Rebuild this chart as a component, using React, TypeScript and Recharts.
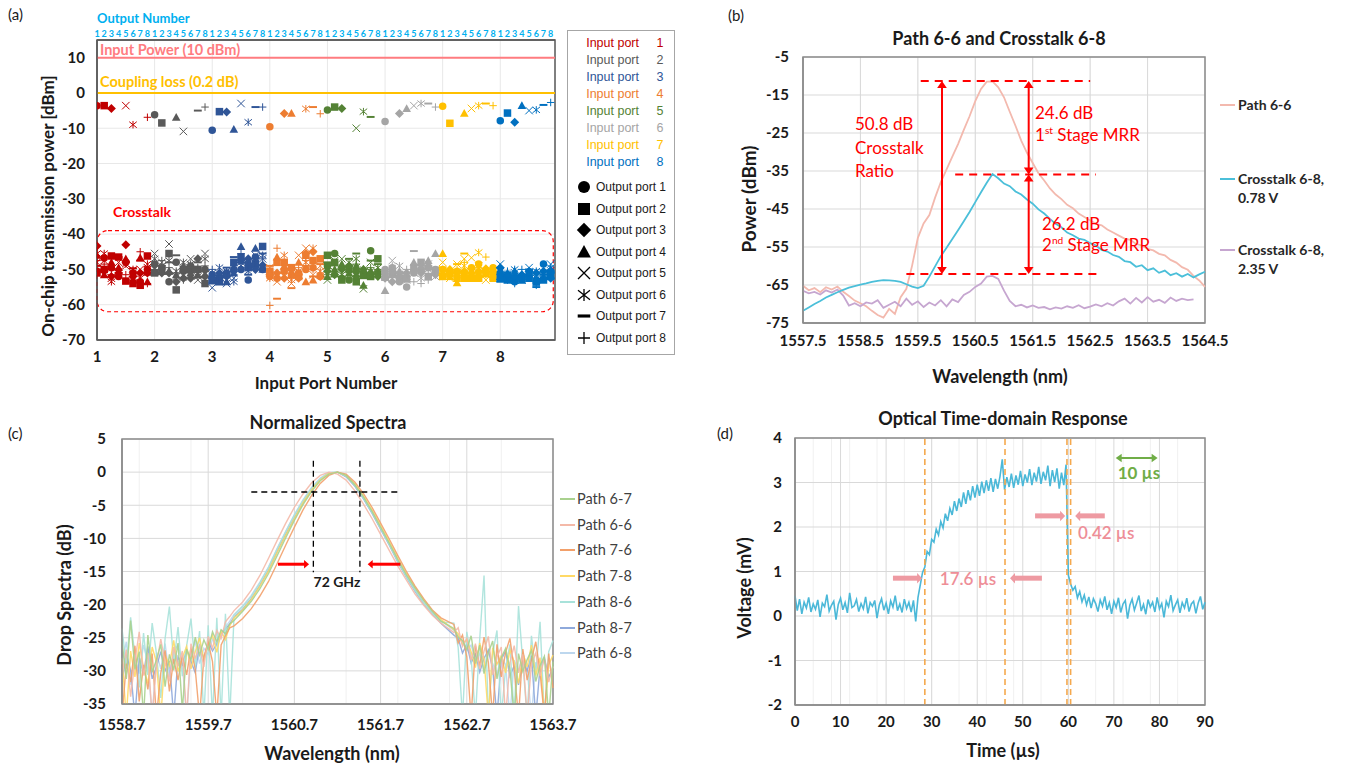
import React from 'react';
import {
  ScatterChart,
  Scatter,
  LineChart,
  Line,
  XAxis,
  YAxis,
  CartesianGrid,
  ReferenceLine,
  ReferenceArea,
} from 'recharts';

const FONT = 'Lato, "Open Sans", sans-serif';
const ARIAL = '"Liberation Sans", Arial, sans-serif';

// ---------------- (a) switch port map ----------------
const inputPorts = [1, 2, 3, 4, 5, 6, 7, 8];
const outputNames = ['1', '2', '3', '4', '5', '6', '7', '8'];
const portColors = ['#C00000', '#595959', '#2F5597', '#ED7D31', '#548235', '#A5A5A5', '#FFC000', '#0070C0'];
const markerNames = ['Output port 1', 'Output port 2', 'Output port 3', 'Output port 4', 'Output port 5', 'Output port 6', 'Output port 7', 'Output port 8'];
const aYTicks = [10, 0, -10, -20, -30, -40, -50, -60, -70];

// on-chip power of the switched path, one value per output port (null = not plotted)
const aMain1 = [-3.6, -3.6, -4.4, null, -3.6, -9.0, null, -6.9];
const aMain2 = [-6.2, -8.5, null, -6.9, -10.9, null, -5.0, -4.0];
const aMain3 = [-10.6, -5.3, -5.4, -10.3, -3.0, -8.3, -4.0, -4.0];
const aMain4 = [-9.6, null, -5.8, -5.8, null, -4.5, -4.0, -5.9];
const aMain5 = [-4.8, -4.0, -4.4, null, -10.0, -5.3, -6.8, null];
const aMain6 = [-8.1, null, -5.8, -4.4, -3.6, -3.0, -3.0, -4.0];
const aMain7 = [-3.8, -8.6, null, -5.8, -4.4, -3.6, -3.0, -3.6];
const aMain8 = [-7.9, -5.7, -8.3, -3.6, -5.0, -4.8, -3.4, -2.7];

// crosstalk: rows = marker (output port 1..8), columns = output number slot 1..8
const aXt1 = [
  [-50.5, -46.8, -49.5, -52.0, -48.0, -51.0, -53.5, -50.0],
  [-51.0, -50.0, -46.2, -46.5, -53.3, -54.0, -54.5, -46.2],
  [-43.4, -50.5, -52.0, -51.0, -43.0, -52.0, -51.0, -51.0],
  [-46.0, -51.5, -48.0, -49.5, -47.0, -53.0, -46.7, -53.5],
  [-48.0, -47.5, -52.5, -48.0, -49.0, -52.0, -50.0, -49.5],
  [-45.5, -45.5, -53.5, -50.5, -48.5, -50.0, -52.5, -48.5],
  [-49.0, -50.0, -50.0, -46.5, -48.0, -49.7, -47.5, -51.5],
  [-47.5, -48.5, -51.5, -51.0, -51.5, -50.5, -45.0, -54.0],
];
const aXt2 = [
  [-48.5, -49.5, -53.5, -48.0, -50.5, -49.0, -50.0, -50.0],
  [-51.0, -50.5, -45.5, -55.8, -50.0, -50.0, -50.0, -54.0],
  [-48.8, -51.0, -51.0, -53.5, -52.5, -52.5, -47.0, -52.0],
  [-50.5, -50.5, -50.5, -51.5, -49.0, -51.0, -51.5, -51.5],
  [-45.5, -48.0, -42.8, -52.0, -51.5, -47.0, -53.0, -45.5],
  [-47.0, -49.0, -47.5, -50.5, -48.0, -48.5, -52.0, -47.0],
  [-51.5, -49.0, -48.0, -46.0, -50.5, -49.5, -48.0, -50.5],
  [-50.0, -47.5, -49.5, -51.0, -53.0, -51.0, -49.5, -49.0],
];
const aXt3 = [
  [-51.5, -52.0, -51.0, -50.0, -50.0, -53.0, -46.5, -50.0],
  [-53.2, -53.5, -51.5, -48.0, -46.5, -49.5, -48.5, -43.5],
  [-52.5, -51.0, -52.0, -50.5, -47.5, -47.0, -50.0, -48.8],
  [-53.0, -52.5, -53.5, -51.0, -43.5, -47.5, -44.0, -50.0],
  [-55.2, -53.5, -54.0, -52.5, -49.0, -48.5, -46.0, -47.0],
  [-51.0, -49.5, -50.5, -53.5, -48.0, -50.5, -48.0, -46.0],
  [-52.5, -52.0, -49.5, -46.5, -48.0, -51.5, -49.5, -45.5],
  [-50.0, -53.0, -51.0, -49.0, -45.5, -49.0, -47.5, -47.0],
];
const aXt4 = [
  [-52.0, -52.5, -50.5, -51.5, -51.0, -50.0, -49.5, -52.0],
  [-50.5, -48.0, -48.0, -49.5, -52.0, -46.0, -47.5, -47.0],
  [-51.5, -51.0, -52.5, -50.0, -52.5, -45.5, -45.0, -52.0],
  [-51.0, -46.5, -49.0, -51.5, -48.0, -53.5, -53.0, -51.5],
  [-49.5, -53.5, -52.0, -54.0, -46.0, -44.0, -51.5, -49.0],
  [-52.5, -51.5, -46.0, -53.0, -50.5, -48.0, -44.0, -50.5],
  [-49.0, -58.3, -50.0, -55.3, -51.5, -49.0, -52.0, -48.5],
  [-60.2, -44.0, -51.0, -52.5, -49.5, -47.5, -50.0, -51.0],
];
const aXt5 = [
  [-49.0, -45.5, -52.5, -53.0, -50.5, -51.0, -44.7, -51.0],
  [-46.0, -48.0, -53.0, -50.0, -53.5, -51.5, -52.0, -47.0],
  [-50.5, -51.5, -50.0, -49.0, -52.0, -50.0, -51.0, -52.0],
  [-52.0, -50.0, -48.5, -51.0, -49.0, -54.5, -50.5, -50.5],
  [-53.0, -47.5, -47.0, -51.5, -49.5, -55.5, -48.0, -51.5],
  [-49.0, -50.5, -51.5, -48.0, -47.0, -50.0, -50.5, -49.5],
  [-48.0, -52.0, -49.5, -47.0, -45.5, -52.5, -47.5, -48.5],
  [-51.5, -49.0, -52.0, -50.5, -48.5, -50.0, -49.5, -50.0],
];
const aXt6 = [
  [-50.0, -49.5, -53.5, -55.0, -51.0, -50.0, -49.5, -50.0],
  [-51.5, -51.0, -52.5, -52.5, -49.5, -48.0, -52.0, -50.5],
  [-52.5, -53.5, -52.0, -51.0, -50.5, -51.0, -49.0, -51.5],
  [-56.0, -51.5, -50.5, -52.0, -48.0, -49.0, -47.5, -45.5],
  [-51.0, -47.5, -51.5, -53.0, -51.0, -49.5, -48.5, -52.0],
  [-52.0, -50.5, -49.0, -51.5, -49.5, -52.5, -50.0, -51.0],
  [-53.0, -52.0, -51.0, -53.5, -44.8, -50.5, -50.0, -49.5],
  [-50.5, -49.0, -50.5, -50.0, -53.5, -54.0, -53.0, -51.5],
];
const aXt7 = [
  [-50.0, -50.5, -50.5, -51.0, -49.5, -48.5, -50.3, -49.5],
  [-52.0, -51.0, -52.5, -52.5, -52.5, -52.5, -51.0, -52.5],
  [-51.5, -50.0, -51.0, -50.5, -51.0, -50.5, -49.8, -50.5],
  [-45.5, -52.0, -53.8, -51.5, -50.5, -51.0, -50.0, -51.5],
  [-48.0, -52.5, -48.5, -47.0, -46.7, -49.0, -53.0, -50.5],
  [-50.0, -51.5, -51.0, -49.0, -50.5, -45.2, -51.5, -52.0],
  [-49.5, -51.0, -48.5, -45.5, -50.0, -51.0, -52.0, -51.0],
  [-51.0, -52.0, -50.0, -48.0, -52.0, -49.5, -46.5, -51.5],
];
const aXt8 = [
  [-51.0, -52.0, -53.5, -52.5, -51.0, -53.0, -48.5, -50.5],
  [-52.5, -53.0, -52.5, -53.0, -52.5, -53.5, -53.0, -52.0],
  [-49.5, -51.5, -52.0, -51.5, -50.5, -51.0, -50.5, -52.5],
  [-52.0, -51.0, -50.5, -52.0, -51.5, -53.0, -52.0, -50.0],
  [-48.5, -52.5, -51.0, -53.0, -49.5, -52.5, -51.0, -48.5],
  [-50.5, -53.0, -50.0, -52.5, -51.0, -50.5, -52.0, -49.5],
  [-53.5, -51.0, -52.0, -51.5, -50.0, -55.0, -51.5, -51.0],
  [-51.5, -50.5, -54.0, -50.0, -52.0, -54.5, -51.0, -50.5],
];

const aMain = [aMain1, aMain2, aMain3, aMain4, aMain5, aMain6, aMain7, aMain8];
const aXt = [aXt1, aXt2, aXt3, aXt4, aXt5, aXt6, aXt7, aXt8];
const slot = 1 / outputNames.length;

const mainPoints = inputPorts.map((p, i) =>
  aMain[i].flatMap((v, o) => (v == null ? [] : [{ x: p + o * slot, y: v, k: o }]))
);
const xtPoints = inputPorts.map((p, i) =>
  aXt[i].flatMap((row, k) => row.map((v, o) => ({ x: p + o * slot, y: v, k })))
);
const outputTicks = inputPorts.flatMap((p) => outputNames.map((_, o) => p + o * slot));
const outputAnchors = outputTicks.map((x) => ({ x, y: 15 }));

// ---------------- (b) path 6-6 and crosstalk 6-8 ----------------
const bStart = 1557.5; // OSA sweep start (nm)
const bStep = 0.1; // OSA sample spacing (nm)
const bPath66 = [
  -65.2, -66.4, -65.8, -66.9, -65.6, -66.2, -65.4, -66.8, -67.9, -69.1,
  -69.8, -70.6, -71.8, -72.9, -73.6, -71.3, -72.6, -68.2, -66.0, -59.9,
  -52.6, -48.8, -46.6, -42.0, -37.9, -34.6, -31.2, -27.9, -24.2, -20.6,
  -16.6, -13.4, -11.5, -11.4, -13.0, -15.6, -19.4, -23.1, -27.0, -30.2,
  -32.9, -35.6, -37.5, -39.6, -41.2, -42.4, -43.9, -44.8, -46.2, -47.1,
  -48.0, -48.9, -49.3, -50.4, -51.2, -52.0, -52.8, -53.1, -54.2, -54.6,
  -55.5, -55.9, -56.8, -57.2, -58.4, -59.1, -60.3, -61.0, -62.6, -63.8,
  -65.5,
];
const bXt078 = [
  -71.8, -70.9, -70.0, -69.2, -68.3, -67.6, -66.9, -66.3, -65.7, -65.3,
  -64.9, -64.6, -64.2, -63.9, -63.7, -63.8, -63.9, -64.2, -64.8, -65.4,
  -65.8, -65.2, -62.8, -60.1, -57.4, -55.2, -52.9, -50.6, -48.2, -45.8,
  -43.2, -40.6, -38.1, -35.8, -36.9, -38.3, -39.0, -40.4, -41.2, -42.5,
  -43.6, -45.1, -46.2, -47.6, -48.9, -49.8, -51.2, -51.9, -52.8, -53.1,
  -54.0, -54.6, -55.8, -56.2, -57.1, -57.6, -58.7, -59.0, -60.2, -59.8,
  -61.1, -60.6, -61.8, -61.2, -62.4, -61.9, -62.8, -62.1, -63.0, -62.2,
  -61.5,
];
const bXt235 = [
  -66.5, -67.2, -66.8, -67.5, -66.4, -67.0, -66.2, -67.8, -70.4, -69.8,
  -70.6, -69.6, -69.9, -69.0, -71.0, -70.2, -69.4, -70.6, -68.6, -70.2,
  -69.3, -70.8, -69.6, -70.4, -69.0, -70.6, -68.8, -69.5, -67.6, -66.8,
  -65.5, -64.6, -62.8, -62.6, -63.4, -66.5, -69.2, -70.6, -70.2, -70.9,
  -70.4, -71.0, -70.8, -71.4, -70.9, -71.2, -70.6, -71.0, -70.3, -71.1,
  -70.7, -70.1, -70.6, -69.8, -70.4, -69.3, -68.6, -69.9, -68.4, -69.6,
  -68.2, -69.4, -68.9, -69.7, -68.3, -69.2, -68.6, -69.0, -68.8, null,
  null,
];
const bRows = bPath66.map((v, i) => ({
  x: +(bStart + i * bStep).toFixed(2),
  p66: v,
  x078: bXt078[i],
  x235: bXt235[i],
}));
const bXTicks = [1557.5, 1558.5, 1559.5, 1560.5, 1561.5, 1562.5, 1563.5, 1564.5];
const bYTicks = [-75, -65, -55, -45, -35, -25, -15, -5];

// ---------------- (c) normalized drop spectra ----------------
const cWave = [
  1558.7, 1558.75, 1558.8, 1558.85, 1558.9, 1558.95, 1559, 1559.05, 1559.1, 1559.15,
  1559.2, 1559.25, 1559.3, 1559.35, 1559.4, 1559.45, 1559.5, 1559.55, 1559.6, 1559.65,
  1559.7, 1559.75, 1559.8, 1559.85, 1559.9, 1559.95,
  1560, 1560.1, 1560.2, 1560.3, 1560.4, 1560.5, 1560.6, 1560.7, 1560.8, 1560.9,
  1561, 1561.1, 1561.2, 1561.3, 1561.4, 1561.5, 1561.6, 1561.7, 1561.8, 1561.9,
  1562, 1562.1, 1562.2, 1562.3, 1562.4,
  1562.55, 1562.6, 1562.65, 1562.7, 1562.75, 1562.8, 1562.85, 1562.9, 1562.95, 1563,
  1563.05, 1563.1, 1563.15, 1563.2, 1563.25, 1563.3, 1563.35, 1563.4, 1563.45, 1563.5,
  1563.55, 1563.6, 1563.65, 1563.7,
];
const cPath67 = [
  -25.5, -31.2, -22.4, -29.8, -27.1, -37, -24.6, -30.2, -28.3, -26.0, -32.4, -27.5, -29.9, -25.8, -36, -26.7, -28.4, -24.9, -27.6, -25.3, -26.8, -24.1, -25.6, -23.8, -24.4, -22.9,
  -22.4, -21.0, -19.5, -17.6, -15.3, -12.6, -9.9, -7.3, -4.9, -2.9, -1.3, -0.3, 0, -0.5, -1.9, -3.7, -5.9, -8.3, -10.7, -13.2, -15.5, -17.5, -19.4, -21.0, -22.5,
  -23.6, -24.9, -25.4, -26.8, -24.7, -28.9, -26.1, -30.4, -27.3, -25.5, -31.2, -28.0, -26.6, -29.7, -37, -27.4, -30.1, -28.3, -26.9, -31.6, -29.2, -27.8, -37, -28.6,
];
const cPath66 = [
  -30.4, -26.8, -33.9, -28.5, -24.1, -30.7, -27.3, -37, -29.0, -25.2, -28.8, -31.6, -26.4, -29.3, -27.0, -37, -25.9, -28.1, -26.2, -29.4, -24.8, -26.6, -23.9, -25.1, -22.6, -21.8,
  -20.9, -19.6, -17.8, -15.6, -13.0, -10.3, -7.7, -5.3, -3.3, -1.6, -0.5, 0, -0.3, -1.2, -2.8, -4.8, -7.0, -9.4, -11.8, -14.2, -16.3, -18.4, -20.1, -21.6, -22.8,
  -24.2, -23.5, -26.3, -25.1, -28.4, -25.9, -29.7, -27.0, -24.8, -30.6, -27.9, -26.4, -37, -28.8, -26.2, -30.3, -27.5, -37, -29.0, -27.3, -30.8, -28.1, -31.7, -29.4,
];
const cPath76 = [
  -37, -28.9, -31.7, -26.2, -34.6, -29.1, -32.8, -27.4, -37, -30.3, -26.9, -33.1, -28.2, -31.4, -27.7, -30.6, -26.5, -29.8, -37, -27.9, -25.7, -28.6, -37, -26.1, -24.7, -23.5,
  -23.2, -22.1, -20.6, -18.7, -16.5, -13.8, -11.0, -8.3, -5.7, -3.5, -1.7, -0.5, 0, -0.3, -1.5, -3.2, -5.3, -7.7, -10.1, -12.6, -15.0, -17.2, -19.1, -20.8, -22.0,
  -23.0, -25.8, -24.6, -27.9, -37, -26.2, -29.3, -24.9, -28.7, -37, -26.0, -30.9, -27.2, -25.1, -29.8, -37, -26.7, -31.4, -28.3, -25.6, -30.2, -37, -27.4, -32.6,
];
const cPath78 = [
  -28.1, -37, -27.0, -30.9, -25.8, -29.6, -31.9, -26.4, -28.7, -37, -27.6, -29.2, -25.4, -30.1, -28.0, -26.3, -29.7, -27.1, -25.0, -28.3, -26.0, -24.6, -27.2, -24.0, -25.3, -23.2,
  -22.0, -20.8, -19.2, -17.2, -14.9, -12.1, -9.5, -7.0, -4.6, -2.7, -1.2, -0.2, 0, -0.5, -1.8, -3.6, -5.7, -8.1, -10.5, -13.0, -15.3, -17.4, -19.3, -20.9, -22.2,
  -23.8, -24.4, -26.0, -25.3, -27.1, -29.5, -25.8, -28.2, -37, -26.5, -29.0, -27.7, -30.3, -26.9, -28.6, -31.9, -27.3, -29.4, -26.1, -30.7, -28.0, -37, -29.1, -27.6,
];
const cPath86 = [
  -23.6, -29.2, -21.9, -27.8, -32.5, -24.3, -30.6, -22.8, -27.4, -34.1, -25.1, -20.3, -28.9, -23.4, -30.8, -26.2, -22.1, -29.5, -24.0, -37, -23.1, -37, -22.0, -37, -21.4, -37,
  -21.6, -20.3, -18.8, -16.7, -14.4, -11.6, -9.0, -6.5, -4.3, -2.4, -1.0, -0.1, 0, -0.6, -2.0, -3.9, -6.1, -8.5, -10.9, -13.5, -15.8, -17.9, -19.8, -21.3, -22.6,
  -22.8, -26.5, -37, -24.1, -28.0, -37, -25.2, -15.6, -37, -27.4, -23.9, -37, -29.6, -26.0, -37, -20.2, -28.8, -37, -24.7, -30.5, -22.6, -37, -27.1, -25.4,
];
const cPath87 = [
  -31.8, -27.5, -29.9, -37, -28.0, -30.5, -26.3, -31.2, -29.4, -27.1, -30.0, -28.5, -37, -27.9, -29.1, -26.8, -28.6, -30.3, -26.0, -28.2, -25.5, -27.0, -25.9, -24.3, -23.7, -22.9,
  -21.9, -20.7, -19.1, -17.1, -14.8, -12.0, -9.4, -6.9, -4.6, -2.6, -1.1, -0.2, 0, -0.7, -2.1, -4.0, -6.2, -8.6, -11.0, -13.6, -15.9, -18.0, -19.9, -21.4, -22.8,
  -24.6, -25.1, -27.3, -26.0, -28.8, -27.5, -30.2, -28.1, -26.9, -29.6, -37, -28.3, -27.0, -30.8, -29.2, -32.1, -28.6, -30.0, -27.7, -37, -29.4, -28.2, -30.9, -29.8,
];
const cPath68 = [
  -29.0, -25.6, -32.1, -27.7, -30.4, -26.1, -28.8, -37, -27.3, -29.7, -25.9, -30.9, -27.2, -26.0, -29.0, -37, -27.4, -25.6, -28.9, -26.6, -27.5, -25.2, -26.3, -24.9, -23.4, -22.5,
  -21.5, -20.2, -18.6, -16.6, -14.3, -11.5, -8.9, -6.4, -4.2, -2.3, -0.9, -0.1, 0, -0.6, -2.0, -3.9, -6.0, -8.4, -10.8, -13.3, -15.6, -17.8, -19.7, -21.2, -22.4,
  -23.9, -24.8, -25.6, -27.0, -26.1, -28.3, -27.4, -29.8, -26.6, -28.9, -30.5, -27.8, -29.1, -37, -28.4, -30.0, -27.2, -29.6, -37, -28.7, -30.4, -27.9, -31.1, -29.3,
];
const cSeries = [
  { key: 'p67', name: 'Path 6-7', color: '#A9D18E', values: cPath67 },
  { key: 'p66', name: 'Path 6-6', color: '#F4B9A8', values: cPath66 },
  { key: 'p76', name: 'Path 7-6', color: '#F2A06A', values: cPath76 },
  { key: 'p78', name: 'Path 7-8', color: '#FFD966', values: cPath78 },
  { key: 'p86', name: 'Path 8-6', color: '#A8E2DA', values: cPath86 },
  { key: 'p87', name: 'Path 8-7', color: '#8EA9DB', values: cPath87 },
  { key: 'p68', name: 'Path 6-8', color: '#BDD7EE', values: cPath68 },
];
const cRows = cWave.map((x, i) => {
  const row: any = { x };
  cSeries.forEach((s) => { row[s.key] = s.values[i]; });
  return row;
});
const cXTicks = [1558.7, 1559.7, 1560.7, 1561.7, 1562.7, 1563.7];
const cYTicks = [5, 0, -5, -10, -15, -20, -25, -30, -35];

// ---------------- (d) optical time-domain response ----------------
const dSampleStep = 0.5; // scope sample interval (µs)
const dVolt = [
  0.45, 0.12, 0.38, 0.05, 0.31, 0.18, 0.42, 0.09, 0.27, 0.15,
  0.36, -0.02, 0.29, 0.21, 0.48, 0.11, 0.24, 0.33, -0.08, 0.26,
  0.40, 0.14, 0.30, 0.07, 0.52, 0.19, 0.23, 0.37, 0.10, 0.28,
  0.16, 0.43, 0.06, 0.30, 0.22, 0.35, -0.05, 0.25, 0.39, 0.13,
  0.29, 0.05, 0.34, 0.20, 0.46, 0.12, 0.27, 0.08, 0.38, 0.17,
  0.31, 0.09, 0.35, -0.12, 0.42, 0.70, 0.98, 1.10, 1.45, 1.38,
  1.72, 1.66, 1.95, 1.82, 2.12, 1.98, 2.30, 2.14, 2.42, 2.27,
  2.58, 2.36, 2.64, 2.45, 2.78, 2.52, 2.83, 2.60, 2.92, 2.66,
  2.95, 2.70, 3.02, 2.76, 3.05, 2.81, 3.10, 2.79, 3.08, 2.86,
  3.14, 3.52, 2.84, 3.12, 2.90, 3.20, 2.88, 3.16, 2.95, 3.26,
  2.92, 3.18, 3.00, 3.30, 2.94, 3.22, 3.02, 3.35, 2.97, 3.24,
  3.05, 3.38, 2.92, 3.28, 3.01, 3.32, 2.86, 3.22, 2.94, 3.40,
  0.92, 0.72, 0.58, 0.66, 0.41, 0.55, 0.32, 0.47, 0.25, 0.43,
  0.18, 0.39, 0.28, 0.10, 0.36, 0.22, 0.44, 0.14, 0.30, 0.05,
  0.33, 0.19, 0.41, 0.08, 0.27, 0.35, -0.06, 0.24, 0.38, 0.13,
  0.29, 0.46, 0.11, 0.26, 0.04, 0.37, 0.20, 0.31, 0.09, 0.42,
  0.16, 0.28, -0.03, 0.33, 0.21, 0.47, 0.12, 0.25, 0.36, 0.07,
  0.30, 0.18, 0.40, 0.10, 0.27, 0.33, 0.06, 0.29, 0.44, 0.15,
  0.31,
];
const dRows = dVolt.map((v, i) => ({ t: i * dSampleStep, v }));
const dXTicks = [0, 10, 20, 30, 40, 50, 60, 70, 80, 90];
const dYTicks = [-2, -1, 0, 1, 2, 3, 4];

// minor grid positions (grid only)
const steps = (a: number, b: number, s: number) => {
  const out: number[] = [];
  for (let v = a; v <= b + 1e-9; v += s) out.push(+v.toFixed(3));
  return out;
};
const bMinorX = steps(1557.5, 1564.5, 0.2);
const bMinorY = steps(-75, -5, 2);
const cMinorX = steps(1558.7, 1563.7, 0.2);
const cMinorY = steps(-35, 5, 1);
const dMinorX = steps(0, 90, 2);
const dMinorY = steps(-2, 4, 0.2);

// ---------------- helpers ----------------
function Mark({ cx, cy, k, color, s }: { cx: number; cy: number; k: number; color: string; s: number }) {
  const h = s / 2;
  const sw = s > 9 ? 1.3 : 1;
  if (k === 0) return <circle cx={cx} cy={cy} r={h} fill={color} />;
  if (k === 1) return <rect x={cx - h} y={cy - h} width={s} height={s} fill={color} />;
  if (k === 2) {
    const d = h * 1.2;
    return <polygon points={`${cx},${cy - d} ${cx + d},${cy} ${cx},${cy + d} ${cx - d},${cy}`} fill={color} />;
  }
  if (k === 3) {
    const d = h * 1.15;
    return <polygon points={`${cx},${cy - d} ${cx + d},${cy + d * 0.8} ${cx - d},${cy + d * 0.8}`} fill={color} />;
  }
  if (k === 4)
    return <path d={`M${cx - h},${cy - h}L${cx + h},${cy + h}M${cx - h},${cy + h}L${cx + h},${cy - h}`} stroke={color} strokeWidth={sw} fill="none" />;
  if (k === 5)
    return (
      <path
        d={`M${cx - h},${cy - h * 0.8}L${cx + h},${cy + h * 0.8}M${cx - h},${cy + h * 0.8}L${cx + h},${cy - h * 0.8}M${cx},${cy - h}L${cx},${cy + h}`}
        stroke={color}
        strokeWidth={sw}
        fill="none"
      />
    );
  if (k === 6) return <rect x={cx - h * 1.05} y={cy - s * 0.13} width={s * 1.05} height={s * 0.26} fill={color} />;
  return <path d={`M${cx - h},${cy}L${cx + h},${cy}M${cx},${cy - h}L${cx},${cy + h}`} stroke={color} strokeWidth={sw} fill="none" />;
}

const arrowShape = (color: string, w: number, head: number, both: boolean) => (p: any) => {
  const x1 = Number(p.x1), y1 = Number(p.y1), x2 = Number(p.x2), y2 = Number(p.y2);
  const dx = x2 - x1, dy = y2 - y1;
  const len = Math.hypot(dx, dy) || 1;
  const ux = dx / len, uy = dy / len;
  const hw = head * 0.55 + w * 0.5;
  const tip = (x: number, y: number, sx: number, sy: number) =>
    `${x},${y} ${x - sx * head - sy * hw},${y - sy * head + sx * hw} ${x - sx * head + sy * hw},${y - sy * head - sx * hw}`;
  const sx1 = both ? x1 + ux * head * 0.8 : x1;
  const sy1 = both ? y1 + uy * head * 0.8 : y1;
  return (
    <g>
      <line x1={sx1} y1={sy1} x2={x2 - ux * head * 0.8} y2={y2 - uy * head * 0.8} stroke={color} strokeWidth={w} />
      <polygon points={tip(x2, y2, ux, uy)} fill={color} />
      {both && <polygon points={tip(x1, y1, -ux, -uy)} fill={color} />}
    </g>
  );
};

const roundedDash = (p: any) => (
  <rect x={p.x} y={p.y} width={p.width} height={p.height} rx={11} ry={11} fill="none" stroke="#FF0000" strokeWidth={1.2} strokeDasharray="4 3" />
);

function Txt({ x, y, children, size = 14, weight = 400, color = '#1a1a1a', align = 'left', rotate = false, family = FONT }: any) {
  const tx = align === 'center' ? '-50%' : align === 'right' ? '-100%' : '0';
  return (
    <div
      style={{
        position: 'absolute',
        left: x,
        top: y,
        transform: `translate(${tx}, -50%)${rotate ? ' rotate(-90deg)' : ''}`,
        fontSize: size,
        fontWeight: weight,
        color,
        fontFamily: family,
        whiteSpace: 'nowrap',
        lineHeight: 1,
      }}
    >
      {children}
    </div>
  );
}

function LineKey({ x, y, color }: { x: number; y: number; color: string }) {
  return <div style={{ position: 'absolute', left: x, top: y - 1, width: 15, height: 2, background: color }} />;
}

const tick = (size: number) => ({ fontSize: size, fontWeight: 700, fill: '#1a1a1a', fontFamily: FONT });
const border = '#8C8C8C';

function PortLegend() {
  return (
    <div style={{ position: 'absolute', left: 567, top: 30, width: 108, height: 325, border: '1px solid #A6A6A6', boxSizing: 'border-box', background: '#fff', fontFamily: ARIAL }}>
      {inputPorts.map((p, i) => (
        <React.Fragment key={p}>
          <div style={{ position: 'absolute', right: 35, top: 12 + 17 * i, transform: 'translateY(-50%)', fontSize: 12.5, color: portColors[i], lineHeight: 1, whiteSpace: 'nowrap' }}>
            Input port
          </div>
          <div style={{ position: 'absolute', left: 92, top: 12 + 17 * i, transform: 'translate(-50%, -50%)', fontSize: 12.5, color: portColors[i], lineHeight: 1 }}>{p}</div>
        </React.Fragment>
      ))}
      {markerNames.map((m, k) => (
        <React.Fragment key={m}>
          <svg style={{ position: 'absolute', left: 7, top: 147 + 21.5 * k }} width={18} height={18}>
            <Mark cx={9} cy={9} k={k} color="#000" s={12} />
          </svg>
          <div style={{ position: 'absolute', left: 28, top: 156 + 21.5 * k, transform: 'translateY(-50%)', fontSize: 12, color: '#1a1a1a', lineHeight: 1, whiteSpace: 'nowrap' }}>{m}</div>
        </React.Fragment>
      ))}
    </div>
  );
}

export default function App() {
  return (
    <div style={{ position: 'absolute', left: 0, top: 0, width: 1346, height: 768, background: '#fff', overflow: 'hidden', fontFamily: FONT }}>
      {/* ---------------- (a) ---------------- */}
      <Txt x={8} y={14} size={15}>(a)</Txt>
      <Txt x={97} y={18} size={13} weight={700} color="#00B0F0">Output Number</Txt>
      <div style={{ position: 'absolute', left: 0, top: 20 }}>
        <ScatterChart width={560} height={380} margin={{ top: 6, right: 5, bottom: 0, left: 0 }}>
          <CartesianGrid stroke="#E8E8E8" />
          <XAxis
            type="number"
            dataKey="x"
            domain={[1, 8.95]}
            ticks={inputPorts}
            interval={0}
            allowDataOverflow
            height={60}
            tickLine={false}
            tickSize={0}
            tickMargin={11}
            axisLine={{ stroke: '#595959', strokeWidth: 1.5 }}
            tick={tick(15)}
          />
          <XAxis
            xAxisId="top"
            orientation="top"
            type="number"
            dataKey="x"
            domain={[1, 8.95]}
            allowDataOverflow
            ticks={outputTicks}
            interval={0}
            height={14}
            tickLine={false}
            tickSize={0}
            tickMargin={3}
            axisLine={{ stroke: '#595959', strokeWidth: 1.5 }}
            tick={{ fontSize: 9, fontWeight: 700, fill: '#00B0F0', fontFamily: FONT }}
            tickFormatter={(v: number) => outputNames[Math.round((v - Math.floor(v + 1e-9)) / slot)]}
          />
          <YAxis
            type="number"
            dataKey="y"
            domain={[-70, 15]}
            ticks={aYTicks}
            interval={0}
            width={97}
            tickLine={false}
            tickSize={0}
            tickMargin={12}
            axisLine={{ stroke: '#595959', strokeWidth: 1.5 }}
            tick={tick(15)}
          />
          <ReferenceArea x1={1} x2={8.95} y1={-70} y2={15} fill="none" fillOpacity={0} stroke="#595959" strokeWidth={1.5} />
          <ReferenceLine y={10} stroke="#FF7C80" strokeWidth={2} />
          <ReferenceLine y={0} stroke="#FFC000" strokeWidth={2} />
          <ReferenceArea x1={1} x2={8.92} y1={-62} y2={-39} shape={roundedDash} />
          <Scatter xAxisId="top" data={outputAnchors} isAnimationActive={false} shape={() => <g />} />
          {inputPorts.map((p, i) => (
            <Scatter
              key={`xt${p}`}
              data={xtPoints[i]}
              isAnimationActive={false}
              shape={(s: any) => <Mark cx={s.cx} cy={s.cy} k={s.payload.k} color={portColors[i]} s={7.5} />}
            />
          ))}
          {inputPorts.map((p, i) => (
            <Scatter
              key={`m${p}`}
              data={mainPoints[i]}
              isAnimationActive={false}
              shape={(s: any) => <Mark cx={s.cx} cy={s.cy} k={s.payload.k} color={portColors[i]} s={7.5} />}
            />
          ))}
        </ScatterChart>
      </div>
      <Txt x={100} y={50} size={14.5} weight={700} color="#FF7C80">Input Power (10 dBm)</Txt>
      <Txt x={100} y={82} size={14.5} weight={700} color="#FFC000">Coupling loss (0.2 dB)</Txt>
      <Txt x={113} y={212} size={14} weight={700} color="#FF0000">Crosstalk</Txt>
      <Txt x={47} y={206} size={17} weight={700} align="center" rotate>On-chip transmission power [dBm]</Txt>
      <Txt x={326} y={382} size={17} weight={700} align="center">Input Port Number</Txt>
      <PortLegend />

      {/* ---------------- (b) ---------------- */}
      <Txt x={728} y={15} size={15}>(b)</Txt>
      <Txt x={999} y={38} size={18} weight={700} align="center">Path 6-6 and Crosstalk 6-8</Txt>
      <div style={{ position: 'absolute', left: 720, top: 40 }}>
        <LineChart width={525} height={320} data={bRows} margin={{ top: 17, right: 40, bottom: 0, left: 0 }}>
          <XAxis xAxisId="mx" type="number" dataKey="x" domain={[1557.5, 1564.5]} ticks={bMinorX} hide />
          <YAxis yAxisId="my" type="number" domain={[-75, -5]} ticks={bMinorY} hide />
          <CartesianGrid xAxisId="mx" yAxisId="my" stroke="#F0F0F0" />
          <CartesianGrid stroke="#D9D9D9" />
          <XAxis
            type="number"
            dataKey="x"
            domain={[1557.5, 1564.5]}
            ticks={bXTicks}
            interval={0}
            height={37}
            tickLine={false}
            tickSize={0}
            tickMargin={12}
            axisLine={{ stroke: border, strokeWidth: 1.5 }}
            tick={tick(15)}
            tickFormatter={(v: number) => v.toFixed(1)}
          />
          <YAxis
            type="number"
            domain={[-75, -5]}
            ticks={bYTicks}
            interval={0}
            width={83}
            tickLine={false}
            tickSize={0}
            tickMargin={14}
            axisLine={{ stroke: border, strokeWidth: 1.5 }}
            tick={tick(15)}
          />
          <ReferenceArea x1={1557.5} x2={1564.5} y1={-75} y2={-5} fill="none" fillOpacity={0} stroke={border} strokeWidth={1.5} />
          <Line dataKey="p66" stroke="#F3B9AE" strokeWidth={1.8} dot={false} isAnimationActive={false} />
          <Line dataKey="x235" stroke="#C6A6D0" strokeWidth={1.8} dot={false} isAnimationActive={false} />
          <Line dataKey="x078" stroke="#4BBFD9" strokeWidth={1.8} dot={false} isAnimationActive={false} />
          <ReferenceLine segment={[{ x: 1559.55, y: -11.3 }, { x: 1562.5, y: -11.3 }]} stroke="#FF0000" strokeWidth={2} strokeDasharray="8 6" />
          <ReferenceLine segment={[{ x: 1560.15, y: -35.9 }, { x: 1562.6, y: -35.9 }]} stroke="#FF0000" strokeWidth={2} strokeDasharray="8 6" />
          <ReferenceLine segment={[{ x: 1559.3, y: -62.1 }, { x: 1562.7, y: -62.1 }]} stroke="#FF0000" strokeWidth={2} strokeDasharray="8 6" />
          <ReferenceLine segment={[{ x: 1559.92, y: -62.1 }, { x: 1559.92, y: -11.3 }]} shape={arrowShape('#FF0000', 2, 7, true)} />
          <ReferenceLine segment={[{ x: 1561.43, y: -35.9 }, { x: 1561.43, y: -11.3 }]} shape={arrowShape('#FF0000', 2, 7, true)} />
          <ReferenceLine segment={[{ x: 1561.43, y: -62.1 }, { x: 1561.43, y: -35.9 }]} shape={arrowShape('#FF0000', 2, 7, true)} />
        </LineChart>
      </div>
      <Txt x={855} y={123} size={17} color="#FF0000">50.8 dB</Txt>
      <Txt x={855} y={147} size={17} color="#FF0000">Crosstalk</Txt>
      <Txt x={855} y={170} size={17} color="#FF0000">Ratio</Txt>
      <Txt x={1035} y={112} size={17} color="#FF0000">24.6 dB</Txt>
      <Txt x={1035} y={134} size={17} color="#FF0000">1<sup style={{ fontSize: '0.6em' }}>st</sup> Stage MRR</Txt>
      <Txt x={1042} y={223} size={17} color="#FF0000">26.2 dB</Txt>
      <Txt x={1042} y={244} size={17} color="#FF0000">2<sup style={{ fontSize: '0.6em' }}>nd</sup> Stage MRR</Txt>
      <Txt x={748} y={199} size={19} weight={700} align="center" rotate>Power (dBm)</Txt>
      <Txt x={1000} y={376} size={18} weight={700} align="center">Wavelength (nm)</Txt>
      <LineKey x={1220} y={105} color="#F3B9AE" />
      <Txt x={1238} y={105} size={14} weight={700} color="#262626">Path 6-6</Txt>
      <LineKey x={1220} y={179} color="#4BBFD9" />
      <Txt x={1238} y={179} size={14} weight={700} color="#262626">Crosstalk 6-8,</Txt>
      <Txt x={1238} y={198} size={14} weight={700} color="#262626">0.78 V</Txt>
      <LineKey x={1220} y={250} color="#C6A6D0" />
      <Txt x={1238} y={250} size={14} weight={700} color="#262626">Crosstalk 6-8,</Txt>
      <Txt x={1238} y={269} size={14} weight={700} color="#262626">2.35 V</Txt>

      {/* ---------------- (c) ---------------- */}
      <Txt x={8} y={433} size={15}>(c)</Txt>
      <Txt x={328} y={422} size={18} weight={700} align="center">Normalized Spectra</Txt>
      <div style={{ position: 'absolute', left: 20, top: 430 }}>
        <LineChart width={565} height={310} data={cRows} margin={{ top: 9, right: 32, bottom: 0, left: 0 }}>
          <XAxis xAxisId="mx" type="number" dataKey="x" domain={[1558.7, 1563.7]} ticks={cMinorX} hide />
          <YAxis yAxisId="my" type="number" domain={[-35, 5]} ticks={cMinorY} hide />
          <CartesianGrid xAxisId="mx" yAxisId="my" stroke="#F0F0F0" />
          <CartesianGrid stroke="#D9D9D9" />
          <XAxis
            type="number"
            dataKey="x"
            domain={[1558.7, 1563.7]}
            ticks={cXTicks}
            interval={0}
            height={36}
            tickLine={false}
            tickSize={0}
            tickMargin={15}
            axisLine={{ stroke: border, strokeWidth: 1.5 }}
            tick={tick(15)}
            tickFormatter={(v: number) => v.toFixed(1)}
          />
          <YAxis
            type="number"
            domain={[-35, 5]}
            ticks={cYTicks}
            interval={0}
            allowDataOverflow
            width={102}
            tickLine={false}
            tickSize={0}
            tickMargin={16}
            axisLine={{ stroke: border, strokeWidth: 1.5 }}
            tick={tick(15)}
          />
          <ReferenceArea x1={1558.7} x2={1563.7} y1={-35} y2={5} fill="none" fillOpacity={0} stroke={border} strokeWidth={1.5} />
          {cSeries.slice().reverse().map((s) => (
            <Line key={s.key} dataKey={s.key} stroke={s.color} strokeWidth={1.4} strokeOpacity={0.9} dot={false} isAnimationActive={false} />
          ))}
          <ReferenceLine segment={[{ x: 1560.2, y: -3 }, { x: 1561.92, y: -3 }]} stroke="#000" strokeWidth={1.3} strokeDasharray="6 4" />
          <ReferenceLine segment={[{ x: 1560.92, y: 1.7 }, { x: 1560.92, y: -15.1 }]} stroke="#000" strokeWidth={1.3} strokeDasharray="6 4" />
          <ReferenceLine segment={[{ x: 1561.46, y: 1.7 }, { x: 1561.46, y: -15.1 }]} stroke="#000" strokeWidth={1.3} strokeDasharray="6 4" />
          <ReferenceLine segment={[{ x: 1560.51, y: -13.9 }, { x: 1560.87, y: -13.9 }]} shape={arrowShape('#FF0000', 3, 5, false)} />
          <ReferenceLine segment={[{ x: 1561.93, y: -13.9 }, { x: 1561.55, y: -13.9 }]} shape={arrowShape('#FF0000', 3, 5, false)} />
        </LineChart>
      </div>
      <Txt x={337} y={582} size={14} weight={700} align="center">72 GHz</Txt>
      <Txt x={64} y={595} size={18} weight={700} align="center" rotate>Drop Spectra (dB)</Txt>
      <Txt x={332} y={753} size={18} weight={700} align="center">Wavelength (nm)</Txt>
      {cSeries.map((s, i) => (
        <React.Fragment key={s.key}>
          <LineKey x={560} y={499 + 25.7 * i} color={s.color} />
          <Txt x={577} y={499 + 25.7 * i} size={14.5} color="#404040">{s.name}</Txt>
        </React.Fragment>
      ))}

      {/* ---------------- (d) ---------------- */}
      <Txt x={717} y={433} size={15}>(d)</Txt>
      <Txt x={1003} y={418} size={18} weight={700} align="center">Optical Time-domain Response</Txt>
      <div style={{ position: 'absolute', left: 700, top: 425 }}>
        <LineChart width={530} height={310} data={dRows} margin={{ top: 13, right: 25, bottom: 0, left: 0 }}>
          <XAxis xAxisId="mx" type="number" dataKey="t" domain={[0, 90]} ticks={dMinorX} hide />
          <YAxis yAxisId="my" type="number" domain={[-2, 4]} ticks={dMinorY} hide />
          <CartesianGrid xAxisId="mx" yAxisId="my" stroke="#F0F0F0" />
          <CartesianGrid stroke="#D9D9D9" />
          <XAxis
            type="number"
            dataKey="t"
            domain={[0, 90]}
            ticks={dXTicks}
            interval={0}
            height={30}
            tickLine={false}
            tickSize={0}
            tickMargin={11}
            axisLine={{ stroke: border, strokeWidth: 1.5 }}
            tick={tick(15)}
          />
          <YAxis
            type="number"
            domain={[-2, 4]}
            ticks={dYTicks}
            interval={0}
            width={95}
            tickLine={false}
            tickSize={0}
            tickMargin={13}
            axisLine={{ stroke: border, strokeWidth: 1.5 }}
            tick={tick(15)}
          />
          <ReferenceArea x1={0} x2={90} y1={-2} y2={4} fill="none" fillOpacity={0} stroke={border} strokeWidth={1.5} />
          <Line dataKey="v" stroke="#4BB8D8" strokeWidth={1.6} dot={false} isAnimationActive={false} />
          {[28.5, 46.1, 59.7, 60.5].map((x) => (
            <ReferenceLine key={x} x={x} stroke="#F5A94E" strokeWidth={1.6} strokeDasharray="6 4" />
          ))}
          <ReferenceLine segment={[{ x: 21.5, y: 0.85 }, { x: 27.9, y: 0.85 }]} shape={arrowShape('#EE9AA2', 5, 5, false)} />
          <ReferenceLine segment={[{ x: 54.2, y: 0.85 }, { x: 47.2, y: 0.85 }]} shape={arrowShape('#EE9AA2', 5, 5, false)} />
          <ReferenceLine segment={[{ x: 52.7, y: 2.25 }, { x: 59.3, y: 2.25 }]} shape={arrowShape('#EE9AA2', 5, 5, false)} />
          <ReferenceLine segment={[{ x: 68, y: 2.25 }, { x: 61.5, y: 2.25 }]} shape={arrowShape('#EE9AA2', 5, 5, false)} />
          <ReferenceLine segment={[{ x: 70.4, y: 3.55 }, { x: 79.6, y: 3.55 }]} shape={arrowShape('#70AD47', 2, 6, true)} />
        </LineChart>
      </div>
      <Txt x={968} y={578} size={17} weight={600} align="center" color="#EE8E97">17.6 µs</Txt>
      <Txt x={1078} y={532} size={17} weight={600} color="#EE8E97">0.42 µs</Txt>
      <Txt x={1139} y={472} size={17} weight={700} align="center" color="#70AD47">10 µs</Txt>
      <Txt x={744} y={588} size={18} weight={700} align="center" rotate>Voltage (mV)</Txt>
      <Txt x={1003} y={750} size={18} weight={700} align="center">Time (µs)</Txt>
    </div>
  );
}
